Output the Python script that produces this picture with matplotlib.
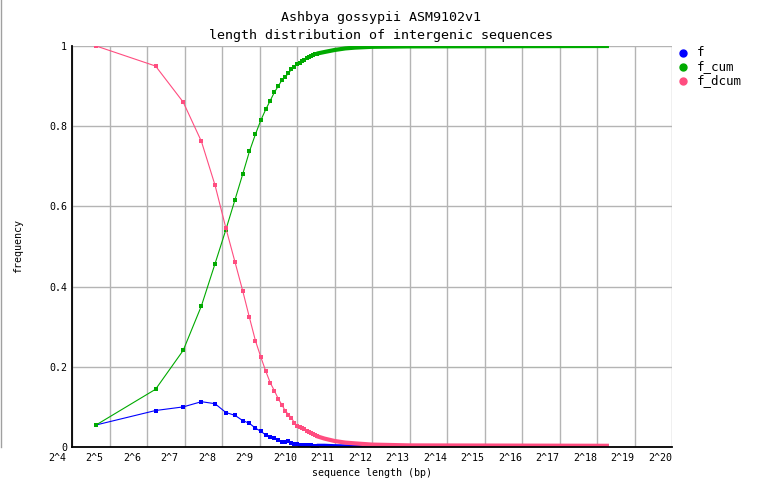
import matplotlib
matplotlib.use("Agg")
import matplotlib.pyplot as plt
import matplotlib.transforms as mtransforms
from matplotlib.lines import Line2D

plt.rcParams["font.family"] = ["DejaVu Sans Mono"]

# bin centres (bp) where the individual markers can still be read
length = [25, 75, 125, 175, 225, 275, 325, 375, 425, 475,
          525, 575, 625, 675, 725, 775, 825, 875, 925, 975,
          1025, 1075, 1125, 1175, 1225, 1275, 1325, 1375, 1425, 1475]

f = [0.055, 0.091, 0.100, 0.113, 0.108, 0.086, 0.079, 0.066, 0.059, 0.047,
     0.039, 0.030, 0.024, 0.023, 0.018, 0.013, 0.013, 0.014, 0.009, 0.008,
     0.008, 0.006, 0.005, 0.006, 0.004, 0.005, 0.004, 0.003, 0.003, 0.003]

f_cum = [0.055, 0.144, 0.241, 0.352, 0.457, 0.542, 0.616, 0.680, 0.737, 0.780,
         0.815, 0.842, 0.864, 0.885, 0.900, 0.915, 0.923, 0.932, 0.942, 0.948,
         0.954, 0.958, 0.962, 0.966, 0.969, 0.972, 0.975, 0.977, 0.979, 0.981]

f_dcum = [1.000, 0.950, 0.860, 0.762, 0.653, 0.546, 0.462, 0.390, 0.323, 0.265,
          0.224, 0.189, 0.160, 0.140, 0.120, 0.105, 0.090, 0.081, 0.072, 0.061,
          0.053, 0.050, 0.047, 0.044, 0.041, 0.038, 0.035, 0.032, 0.029, 0.027]

# dense tail: markers merge into a solid band
tail_length = [1475, 1700, 2048, 2500, 3000, 4096, 8192, 327000]
tail_f = [0.003, 0.003, 0.002, 0.0015, 0.001, 0.0005, 0.0, 0.0]
tail_cum = [0.981, 0.985, 0.990, 0.994, 0.996, 0.998, 0.999, 1.0]
tail_dcum = [0.027, 0.021, 0.015, 0.011, 0.009, 0.006, 0.004, 0.003]

names = ["f", "f_cum", "f_dcum"]
colors = ["#0000ff", "#00aa00", "#ff4d80"]
heads = [f, f_cum, f_dcum]
tails = [tail_f, tail_cum, tail_dcum]

W, H = 762, 498
fig = plt.figure(figsize=(W / 100, H / 100), dpi=100)
ax = fig.add_axes([72 / W, 51 / H, 600 / W, 401 / H])
ax.set_xscale("log", base=2)
ax.set_xlim(2 ** 4, 2 ** 20)
ax.set_ylim(0, 1)

for vals, tail, c in zip(heads, tails, colors):
    ax.plot(length, vals, color=c, lw=0.8, marker="s", ms=2.8, mew=0, zorder=3)
    ax.plot(tail_length, tail, color=c, lw=3, solid_capstyle="butt", zorder=3)

# grid + axes
exps = list(range(4, 21))
ax.set_xticks([2 ** k for k in exps])
ax.set_xticklabels([])
ax.set_yticks([0, 0.2, 0.4, 0.6, 0.8, 1.0])
ax.set_yticklabels(["0", "0.2", "0.4", "0.6", "0.8", "1"])
ax.grid(True, color="#b4b4b4", lw=1)
ax.set_axisbelow(True)
ax.tick_params(length=0, labelsize=7.2, pad=3.5)
ax.xaxis.set_minor_locator(matplotlib.ticker.NullLocator())
for s in ["top", "right"]:
    ax.spines[s].set_visible(False)
for s in ["left", "bottom"]:
    ax.spines[s].set_linewidth(1.3)
    ax.spines[s].set_zorder(4)

# x labels sit left of their gridline
trans = mtransforms.blended_transform_factory(ax.transData, ax.transAxes)
shift = mtransforms.ScaledTranslation(-24 / 100, -6 / 100, fig.dpi_scale_trans)
for k in exps:
    ax.text(2 ** k, 0, f"2^{k}", transform=trans + shift,
            ha="left", va="top", fontsize=7.2)

fig.text(372 / W, 1 - 473 / H, "sequence length (bp)", ha="center", va="center", fontsize=7.2)
fig.text(18 / W, 1 - 246 / H, "frequency", rotation=90, ha="center", va="center", fontsize=7.2)
fig.text(0.5, 1 - 18 / H, "Ashbya gossypii ASM9102v1", ha="center", va="center", fontsize=9.6)
fig.text(0.5, 1 - 36 / H, "length distribution of intergenic sequences",
         ha="center", va="center", fontsize=9.6)

# legend
for i, (name, c) in enumerate(zip(names, colors)):
    y = 1 - (53 + 14 * i) / H
    fig.add_artist(Line2D([683 / W], [y], marker="o", ms=5, color=c,
                          transform=fig.transFigure))
    fig.text(697 / W, y, name, va="center", ha="left", fontsize=9)

# thin frame line on the far left
fig.add_artist(Line2D([1 / W, 1 / W], [1 - 447 / H, 1], color="#a0a0a0",
                      lw=1, transform=fig.transFigure))

fig.savefig("out.png", dpi=100)
